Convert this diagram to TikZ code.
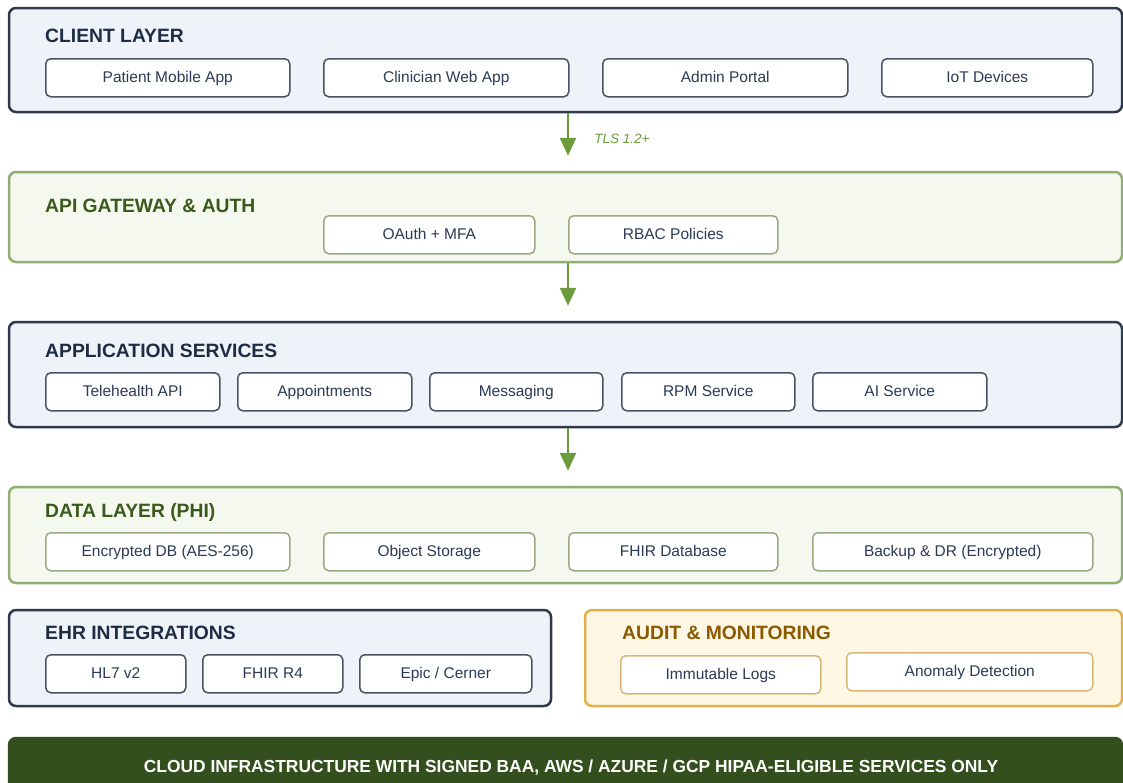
\documentclass[tikz,border=0pt]{standalone}
\usepackage{fontspec}
\setmainfont{Liberation Sans}
\usetikzlibrary{arrows.meta, fit, positioning}

\definecolor{navyline}{HTML}{2F3A4C}
\definecolor{bluefill}{HTML}{EEF2F9}
\definecolor{navytext}{HTML}{1F2D44}
\definecolor{itemtext}{HTML}{2B3A55}
\definecolor{grayline}{HTML}{4B5263}
\definecolor{greenline}{HTML}{8FAE74}
\definecolor{greenfill}{HTML}{F5F8EF}
\definecolor{greentext}{HTML}{3A5A1C}
\definecolor{greenitem}{HTML}{9AAA80}
\definecolor{arrowgreen}{HTML}{6B9B3A}
\definecolor{goldline}{HTML}{E2B04A}
\definecolor{goldfill}{HTML}{FFF7E3}
\definecolor{goldtext}{HTML}{8B5A00}
\definecolor{golditem}{HTML}{D8B878}
\definecolor{cloudfill}{HTML}{344F1E}

\tikzset{
  layer/.style={draw=navyline, fill=bluefill, line width=2.5pt, rounded corners=7pt, inner sep=0pt},
  greenlayer/.style={layer, draw=greenline, fill=greenfill},
  auditlayer/.style={layer, draw=goldline, fill=goldfill},
  title/.style={anchor=base west, inner sep=0pt, font=\fontsize{19.3}{22}\selectfont\bfseries, text=navytext},
  item/.style={draw=grayline, fill=white, line width=1.5pt, rounded corners=5pt, minimum height=38pt,
    font=\fontsize{15.5}{18}\selectfont, text=itemtext, anchor=north west, inner sep=0pt,
    text height=11pt, text depth=2.5pt},
  greenitem/.style={item, draw=greenitem},
  golditem/.style={item, draw=golditem},
  flow/.style={draw=arrowgreen, line width=2.5pt, -{Triangle[width=16pt,length=18pt]}, shorten >=15pt}
}

\begin{document}
\begin{tikzpicture}[x=1pt, y=-1pt]
  \useasboundingbox (0,0) rectangle (1123,782);

  % client layer
  \node[layer, fit={(9,8) (1122,112)}] (client) {};
  \node[title] (clienttitle) at (45,42) {CLIENT LAYER};
  \node[item, minimum width=244pt] (patient) at (45,58) {Patient Mobile App};
  \node[item, minimum width=245pt] (clinician) at (323,58) {Clinician Web App};
  \node[item, minimum width=245pt] (admin) at (602,58) {Admin Portal};
  \node[item, minimum width=211pt] (iot) at (881,58) {IoT Devices};

  % api gateway
  \node[greenlayer, fit={(9,172) (1122,262)}] (api) {};
  \node[title, text=greentext] (apititle) at (45,212) {API GATEWAY \& AUTH};
  \node[greenitem, minimum width=211pt] (oauth) at (323,215) {OAuth + MFA};
  \node[greenitem, minimum width=209pt] (rbac) at (568,215) {RBAC Policies};

  % application services
  \node[layer, fit={(9,322) (1122,427)}] (apps) {};
  \node[title] (appstitle) at (45,357) {APPLICATION SERVICES};
  \node[item, minimum width=174pt] (tele) at (45,372) {Telehealth API};
  \node[item, minimum width=174pt] (appoint) at (237,372) {Appointments};
  \node[item, minimum width=173pt] (msg) at (429,372) {Messaging};
  \node[item, minimum width=173pt] (rpm) at (621,372) {RPM Service};
  \node[item, minimum width=174pt] (ai) at (812,372) {AI Service};

  % data layer
  \node[greenlayer, fit={(9,487) (1122,583)}] (data) {};
  \node[title, text=greentext] (datatitle) at (45,517) {DATA LAYER (PHI)};
  \node[greenitem, minimum width=244pt] (encdb) at (45,532) {Encrypted DB (AES-256)};
  \node[greenitem, minimum width=211pt] (objstore) at (323,532) {Object Storage};
  \node[greenitem, minimum width=209pt] (fhirdb) at (568,532) {FHIR Database};
  \node[greenitem, minimum width=280pt] (backup) at (812,532) {Backup \& DR (Encrypted)};

  % ehr integrations
  \node[layer, fit={(9,610) (551,706)}] (ehr) {};
  \node[title] (ehrtitle) at (45,639) {EHR INTEGRATIONS};
  \node[item, minimum width=140pt] (hl7) at (45,654) {HL7 v2};
  \node[item, minimum width=140pt] (fhirr4) at (202,654) {FHIR R4};
  \node[item, minimum width=172pt] (epic) at (359,654) {Epic / Cerner};

  % audit and monitoring
  \node[auditlayer, fit={(585,610) (1122,706)}] (audit) {};
  \node[title, text=goldtext] (audittitle) at (622,639) {AUDIT \& MONITORING};
  \node[golditem, minimum width=200pt] (logs) at (620,655) {Immutable Logs};
  \node[golditem, minimum width=246pt] (anomaly) at (846,652) {Anomaly Detection};

  % cloud bar
  \node[layer, draw=cloudfill, fill=cloudfill, fit={(9,738) (1122,800)}] (cloud) {};
  \node[text=white, font=\fontsize{17.4}{20}\selectfont\bfseries] (cloudtext) at (571,768)
    {CLOUD INFRASTRUCTURE WITH SIGNED BAA, AWS / AZURE / GCP HIPAA-ELIGIBLE SERVICES ONLY};

  % flows
  \draw[flow] ([xshift=2.5pt]client.south) -- ([xshift=2.5pt]api.north)
    node[pos=0.45, right=25pt, inner sep=0pt, text=arrowgreen, font=\fontsize{13.5}{16}\selectfont\itshape] (tls) {TLS 1.2+};
  \draw[flow] ([xshift=2.5pt]api.south) -- ([xshift=2.5pt]apps.north);
  \draw[flow] ([xshift=2.5pt]apps.south) -- ([xshift=2.5pt]data.north);
\end{tikzpicture}
\end{document}
